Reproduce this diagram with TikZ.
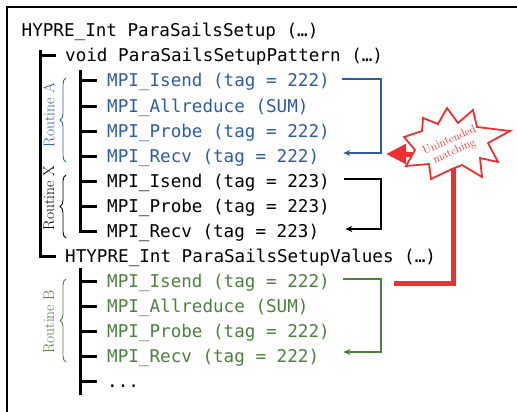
\documentclass[tikz,border=0pt]{standalone}
\usepackage{fontspec}
\setmonofont{DejaVu Sans Mono}
\usetikzlibrary{decorations.pathreplacing,arrows.meta,calc}

\definecolor{rtblue}{RGB}{46,92,160}
\definecolor{rtgreen}{RGB}{76,128,62}
\definecolor{rtred}{RGB}{236,48,48}

\begin{document}
\begin{tikzpicture}[x=1pt,y=-1pt,
  code/.style={anchor=base west,inner sep=0pt,font=\fontsize{17.6}{20}\ttfamily},
  tree/.style={line width=3pt},
  flow/.style={line width=2pt,-{Stealth[length=7pt,width=6pt]}},
  brc/.style={decorate,decoration={brace,amplitude=6pt},line width=0.9pt},
  rlabel/.style={rotate=90,font=\fontsize{15.5}{15.5}\selectfont,inner sep=0pt},
]
\useasboundingbox (0,0) rectangle (517,412);
% outer frame, running past the page edges
\begin{scope}
  \clip (0,0) rectangle (517,412);
  \draw[line width=2.2pt] (7,7) rectangle (560,460);
\end{scope}

% call tree text
\node[code] (top) at (21.5,37) {HYPRE\_Int ParaSailsSetup (…)};
\node[code] (pat) at (65,62) {void ParaSailsSetupPattern (…)};
\node[code,text=rtblue] (isA) at (107,87)  {MPI\_Isend (tag = 222)};
\node[code,text=rtblue] (arA) at (107,112) {MPI\_Allreduce (SUM)};
\node[code,text=rtblue] (prA) at (107,137) {MPI\_Probe (tag = 222)};
\node[code,text=rtblue] (rvA) at (107,162) {MPI\_Recv (tag = 222)};
\node[code] (isX) at (107,187) {MPI\_Isend (tag = 223)};
\node[code] (prX) at (107,212) {MPI\_Probe (tag = 223)};
\node[code] (rvX) at (107,237) {MPI\_Recv (tag = 223)};
\node[code] (val) at (65,262) {HTYPRE\_Int ParaSailsSetupValues (…)};
\node[code,text=rtgreen] (isB) at (107,287) {MPI\_Isend (tag = 222)};
\node[code,text=rtgreen] (arB) at (107,312) {MPI\_Allreduce (SUM)};
\node[code,text=rtgreen] (prB) at (107,337) {MPI\_Probe (tag = 222)};
\node[code,text=rtgreen] (rvB) at (107,362) {MPI\_Recv (tag = 222)};
\node[code] (dots) at (107,387) {...};

% tree branches
\draw[tree] (40,50) -- (40,257.5);
\draw[tree] (38.5,56) -- (56,56);
\draw[tree] (38.5,256) -- (56,256);
\draw[tree] (80,70) -- (80,232.5);
\foreach \r in {81,106,131,156,181,206,231}
  \draw[tree] (78.5,\r) -- (97,\r);
\draw[tree] (80,268) -- (80,395);
\foreach \r in {281,306,331,356,381}
  \draw[tree] (78.5,\r) -- (97,\r);

% routine braces and labels
\draw[brc,rtblue] (66,162) -- (66,78);
\node[rlabel,text=rtblue] (labA) at (49,115) {Routine A};
\draw[brc] (66,238) -- (66,175);
\node[rlabel] (labX) at (49,198) {Routine X};
\draw[brc,rtgreen] (66,362) -- (66,279);
\node[rlabel,text=rtgreen] (labB) at (49,322) {Routine B};

% send/receive matching arrows
\draw[flow,rtblue] ([shift={(12.5pt,7.5pt)}]isA.base east) -- ++(39,0)
  |- ([shift={(24pt,9pt)}]rvA.base east);
\draw[flow] ([shift={(14pt,8pt)}]isX.base east) -- ++(37,0)
  |- ([shift={(26pt,8pt)}]rvX.base east);
\draw[flow,rtgreen] ([shift={(13pt,8pt)}]isB.base east) -- ++(38,0)
  |- ([shift={(24pt,10pt)}]rvB.base east);

% unintended match from routine B back to routine A
\coordinate (redS) at (394,283);
\coordinate (redE) at (386,154);
\draw[rtred,line width=5pt,line join=miter,
      -{Triangle[length=20pt,width=19pt]}] (redS) -| (453,154) -- (redE);
\draw[rtred,line width=1.8pt,fill=white,line join=miter]
  (404,137) -- (422,131) -- (423,118) -- (438,124) -- (447,108) -- (458,123)
  -- (473,110) -- (477,127) -- (510,131) -- (488,143) -- (498,162) -- (480,158)
  -- (482,177) -- (462,165) -- (452,169) -- (431,179) -- (429,164) -- (406,166)
  -- (415,150) -- cycle;
\node[rotate=24,text=rtred,align=center,inner sep=0pt,
      font=\fontsize{11.5}{12}\selectfont] (burst) at (452,146) {Unintended\\matching};
\end{tikzpicture}
\end{document}
